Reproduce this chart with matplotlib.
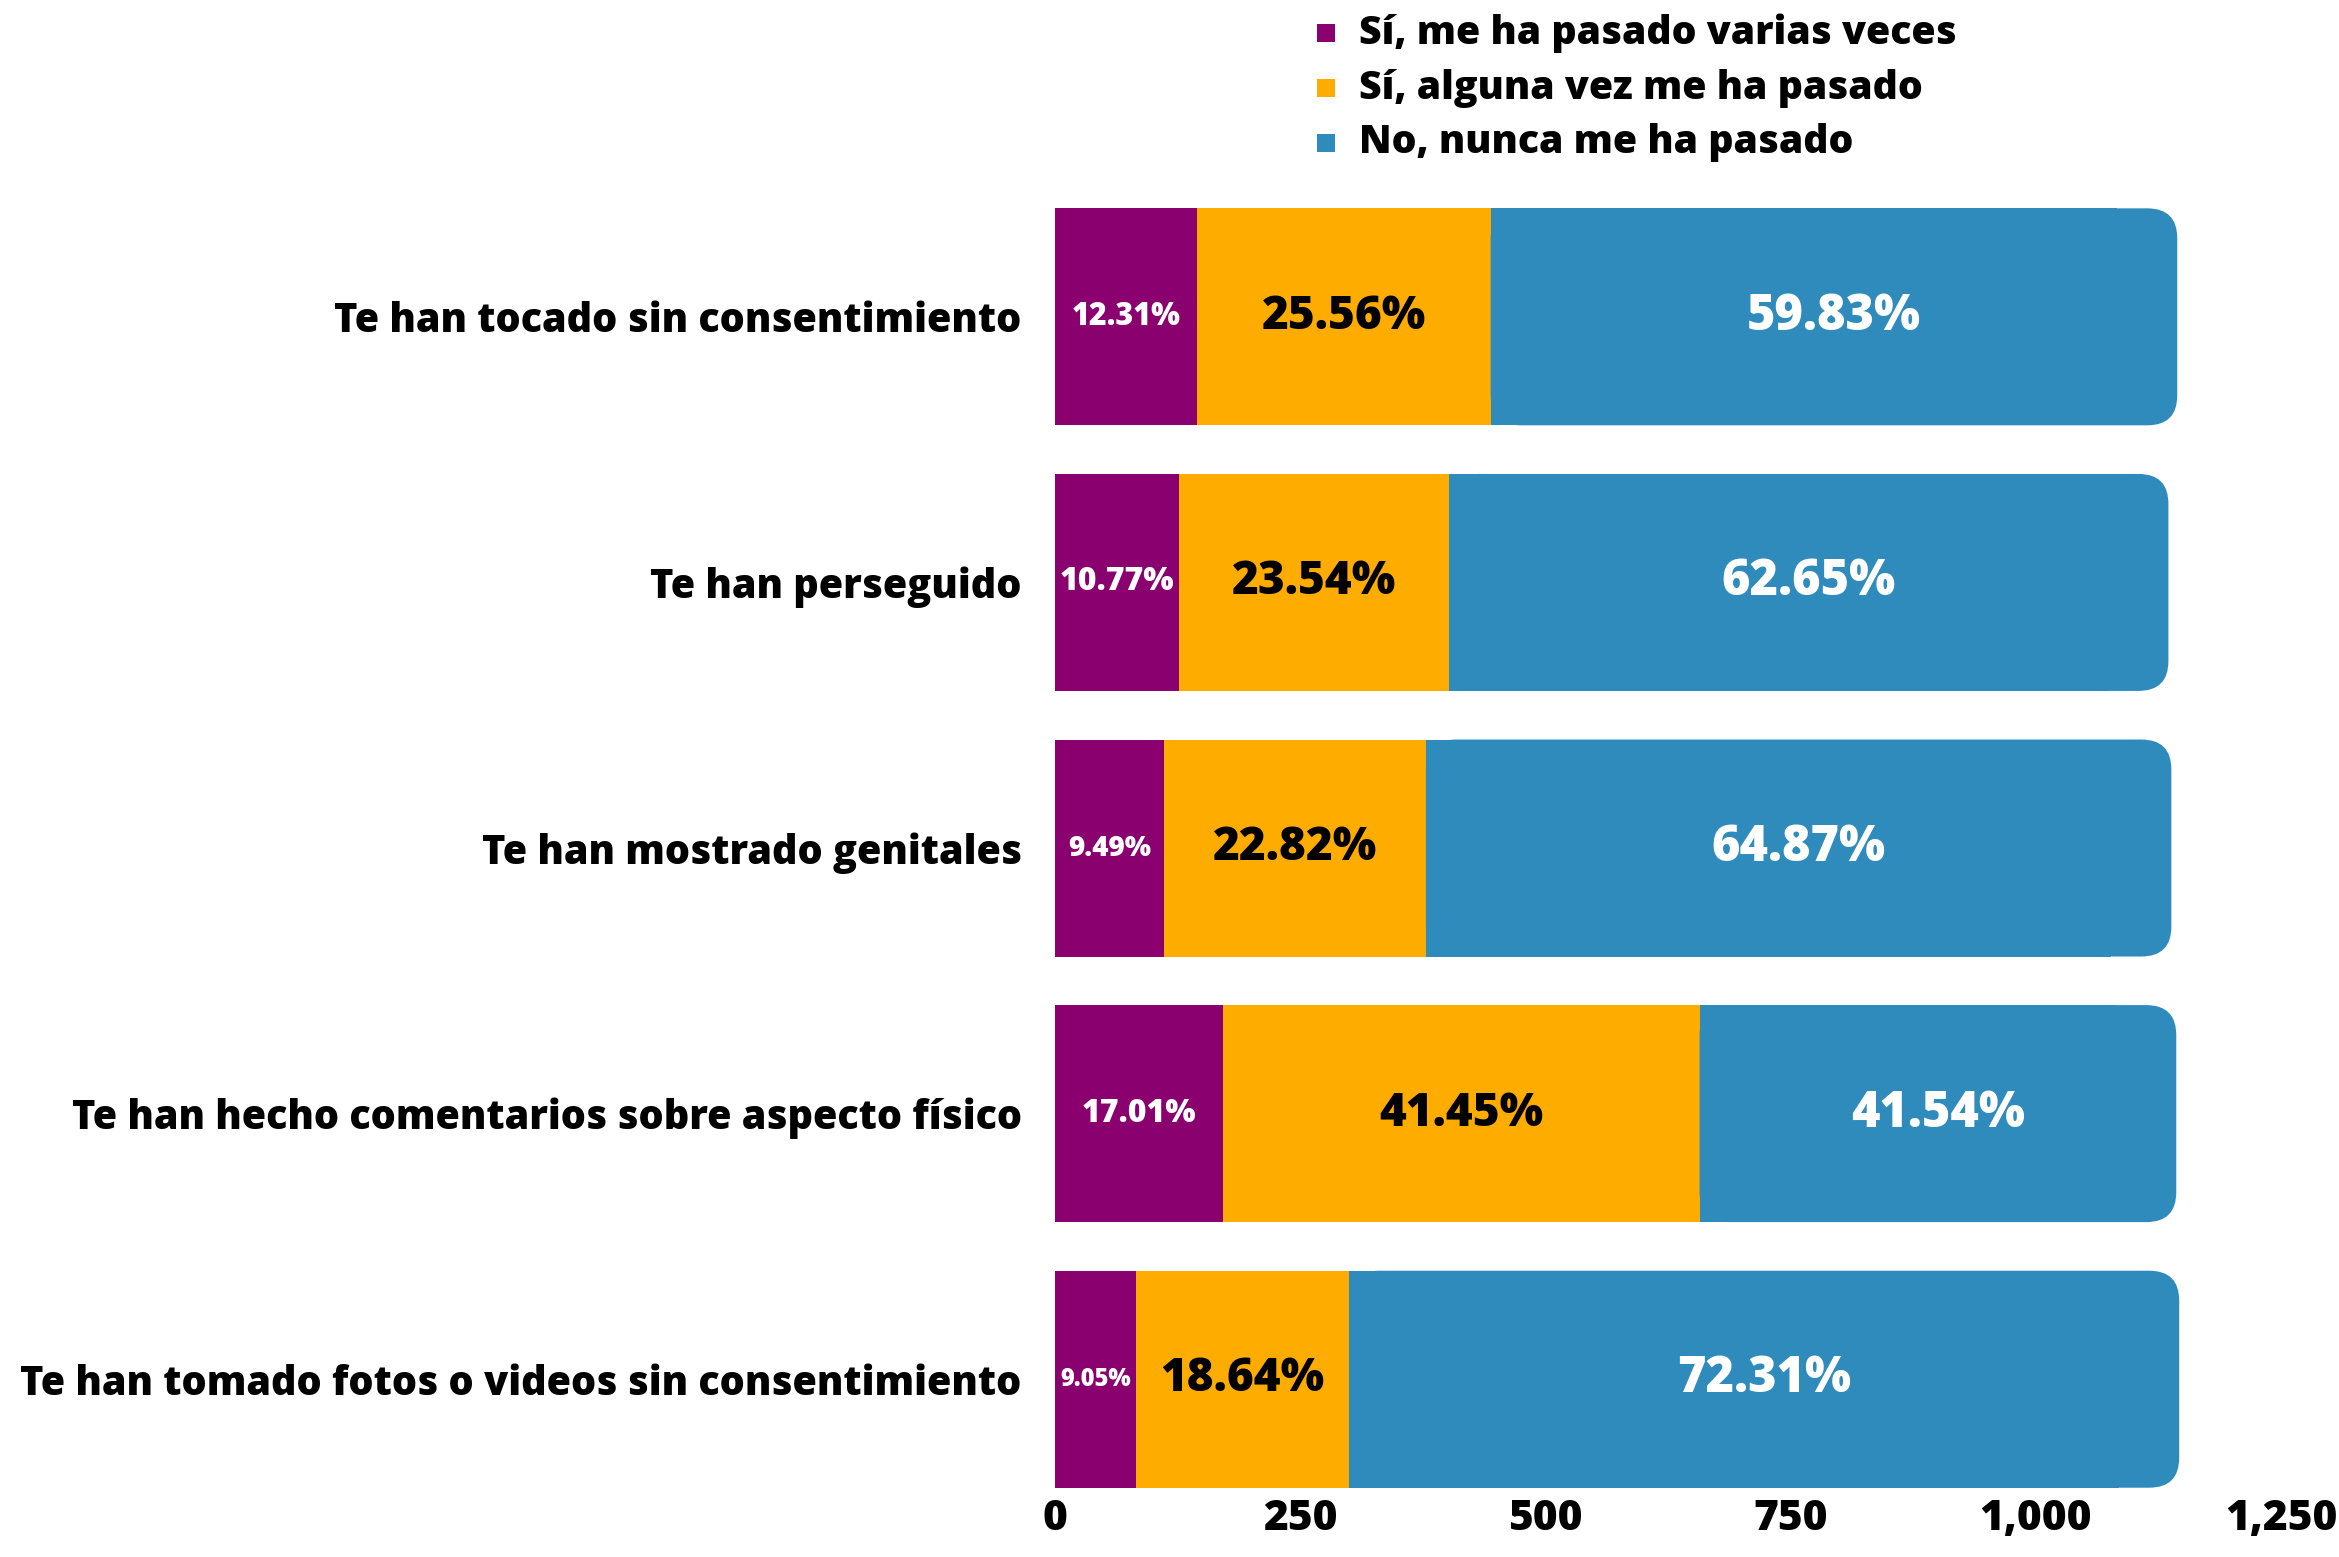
import matplotlib
matplotlib.use('Agg')
import matplotlib.pyplot as plt
from matplotlib.patches import FancyBboxPatch, Rectangle
import numpy as np

# data (bar lengths are counts, labels are the printed percentages)
questions = ['Te han tocado sin consentimiento',
             'Te han perseguido',
             'Te han mostrado genitales',
             'Te han hecho comentarios sobre aspecto físico',
             'Te han tomado fotos o videos sin consentimiento']
series_names = ['Sí, me ha pasado varias veces',
                'Sí, alguna vez me ha pasado',
                'No, nunca me ha pasado']
varias = [145, 126, 111, 171, 82]
alguna = [299, 276, 267, 486, 218]
nunca = [700, 733, 760, 486, 846]
varias_pct = ['12.31%', '10.77%', '9.49%', '17.01%', '9.05%']
alguna_pct = ['25.56%', '23.54%', '22.82%', '41.45%', '18.64%']
nunca_pct = ['59.83%', '62.65%', '64.87%', '41.54%', '72.31%']
xticks = [0, 250, 500, 750, 1000, 1250]

colors = ['#89006e', '#ffac00', '#2e8bbb']
font = 'Open Sans'
small_sizes = [22, 23, 20, 23, 17]  # purple labels shrink to fit

fig = plt.figure(figsize=(23.39, 15.57), dpi=100)
ax = fig.add_axes([0.4511, 0.0289, 0.5242, 0.8529])

y = np.arange(len(questions))
h = 0.817
ax.set_xlim(0, 1250)
ax.set_ylim(4.5, -0.5)

ax.barh(y, varias, height=h, color=colors[0], linewidth=0)
ax.barh(y, alguna, left=varias, height=h, color=colors[1], linewidth=0)

# blue segment gets a rounded right end
px_x = ax.transData.transform((1, 0))[0] - ax.transData.transform((0, 0))[0]
px_y = abs(ax.transData.transform((0, 1))[1] - ax.transData.transform((0, 0))[1])
r_px = 30
r_x = r_px / px_x
asp = (r_px / px_y) / r_x
starts = np.array(varias) + np.array(alguna)
for i in range(len(questions)):
    ax.add_patch(FancyBboxPatch((starts[i], y[i] - h / 2), nunca[i], h,
                                boxstyle='round,pad=0,rounding_size=%f' % r_x,
                                mutation_aspect=asp, facecolor=colors[2], edgecolor='none'))
ax.barh(y, np.array(nunca) - r_x * 2, left=starts, height=h, color=colors[2], linewidth=0)

# value labels
for i in range(len(questions)):
    ax.text(varias[i] / 2, y[i], varias_pct[i], ha='center', va='center',
            color='white', fontsize=small_sizes[i], fontweight='heavy', family=font)
    ax.text(varias[i] + alguna[i] / 2, y[i], alguna_pct[i], ha='center', va='center',
            color='black', fontsize=33, fontweight='heavy', family=font)
    ax.text(starts[i] + nunca[i] / 2, y[i], nunca_pct[i], ha='center', va='center',
            color='white', fontsize=35, fontweight='heavy', family=font)

ax.set_yticks(y)
ax.set_yticklabels(questions, fontsize=28.5, fontweight='heavy', family=font)
ax.set_xticks(xticks)
ax.set_xticklabels(['{:,}'.format(t) for t in xticks], fontsize=30.5, fontweight='heavy', family=font)
ax.tick_params(axis='both', length=0)
ax.tick_params(axis='y', pad=24)
ax.tick_params(axis='x', pad=-10)
for s in ax.spines.values():
    s.set_visible(False)

# legend at the top
for k, name in enumerate(series_names):
    yc = 1 - (33 + 55 * k) / 1557
    fig.patches.append(Rectangle((1317 / 2339, yc - 9 / 1557), 18 / 2339, 18 / 1557,
                                 transform=fig.transFigure, facecolor=colors[k], edgecolor='none'))
    fig.text(1359 / 2339, yc, name, ha='left', va='center', fontsize=28.3,
             fontweight='heavy', family=font)

fig.savefig('out.png', dpi=100)
